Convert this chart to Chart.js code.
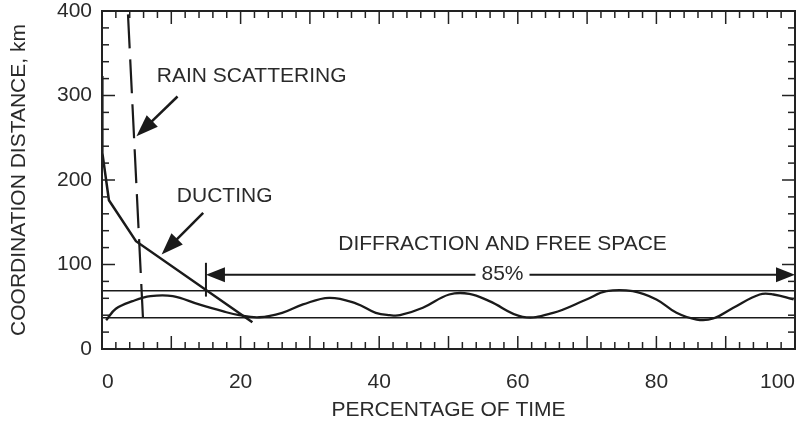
<!DOCTYPE html>
<html>
<head>
<meta charset="utf-8">
<script src="https://cdn.jsdelivr.net/npm/chart.js@4.4.1/dist/chart.umd.min.js"></script>
<style>
  html, body { margin: 0; padding: 0; background: #fff; }
</style>
</head>
<body>
<canvas id="myChart" width="797" height="427"></canvas>
<script>
// Tick labels
var xTicks = [0, 20, 40, 60, 80, 100];
var yTicks = [0, 100, 200, 300, 400];

// Diffraction and free space curve
var waveX = [0.6, 2, 4.4, 7, 10.2, 14, 17.4, 19.8, 22.7, 26, 29, 32.8, 36.7, 39.5, 41.5, 43, 46.3, 50.1, 53, 55.9, 60.7, 65.1, 69.9, 72.8, 76.6, 80, 82.9, 85.8, 88.2, 91.1, 94.9, 96.9, 99.8];
var waveY = [34, 47.6, 56.6, 62.5, 62.5, 52.7, 44.7, 40, 37.6, 42.8, 52.7, 60.6, 53.8, 42.8, 40, 40, 48.8, 64.5, 65.3, 56.6, 38.1, 42.8, 58.6, 68.4, 68.4, 58.6, 42.8, 34.9, 36.1, 48.8, 64.5, 64.5, 58.6];

// Ducting curve
var ductX = [0, 0.05, 1.0, 4.9, 21.7];
var ductY = [323, 232, 176, 127.6, 31.7];

// Rain scattering (dashed)
var rainX = [3.75, 5.92];
var rainY = [396, 35];

// Horizontal limit lines
var limitValues = [69, 37];

// Annotations (data units)
var noteText = ["RAIN SCATTERING", "DUCTING", "DIFFRACTION AND FREE SPACE"];
var noteX = [7.9, 10.8, 57.8];
var noteY = [323, 181, 124];
var arrowFrom = [[10.9, 298.8], [14.6, 161.2]];
var arrowTo = [[4.97, 251.8], [8.6, 111.8]];
var spanFrom = 15;
var spanTo = 100;
var spanAt = 88;
var spanLabel = "85%";
var spanBar = [102, 62];

var FONT = "'Liberation Sans', Arial, sans-serif";
var INK = "#1a1a1a";
var TEXT = "#2a2a2a";

function pts(xs, ys) {
  return xs.map(function (v, i) { return { x: v, y: ys[i] }; });
}

function head(ctx, x1, y1, x2, y2, len, hw) {
  var t = Math.atan2(y2 - y1, x2 - x1);
  ctx.beginPath();
  ctx.moveTo(x2, y2);
  ctx.lineTo(x2 - len * Math.cos(t) + hw * Math.sin(t), y2 - len * Math.sin(t) - hw * Math.cos(t));
  ctx.lineTo(x2 - len * Math.cos(t) - hw * Math.sin(t), y2 - len * Math.sin(t) + hw * Math.cos(t));
  ctx.closePath();
  ctx.fill();
}

function seg(ctx, x1, y1, x2, y2) {
  ctx.beginPath();
  ctx.moveTo(x1, y1);
  ctx.lineTo(x2, y2);
  ctx.stroke();
}

// text notes and arrows
var notes = {
  id: "notes",
  afterDatasetsDraw: function (chart) {
    var ctx = chart.ctx, xs = chart.scales.x, ys = chart.scales.y;
    ctx.save();
    ctx.font = "21px " + FONT;
    ctx.fillStyle = TEXT;
    ctx.textBaseline = "middle";
    for (var i = 0; i < noteText.length; i++) {
      ctx.textAlign = i === 2 ? "center" : "left";
      ctx.fillText(noteText[i], xs.getPixelForValue(noteX[i]), ys.getPixelForValue(noteY[i]));
    }

    ctx.strokeStyle = INK;
    ctx.fillStyle = INK;
    ctx.lineWidth = 2.5;
    for (var k = 0; k < arrowFrom.length; k++) {
      var x1 = xs.getPixelForValue(arrowFrom[k][0]), y1 = ys.getPixelForValue(arrowFrom[k][1]);
      var x2 = xs.getPixelForValue(arrowTo[k][0]), y2 = ys.getPixelForValue(arrowTo[k][1]);
      var t = Math.atan2(y2 - y1, x2 - x1);
      seg(ctx, x1, y1, x2 - 12 * Math.cos(t), y2 - 12 * Math.sin(t));
      head(ctx, x1, y1, x2, y2, 22, 8);
    }

    // 85% span
    var sx1 = xs.getPixelForValue(spanFrom), sx2 = xs.getPixelForValue(spanTo);
    var sy = ys.getPixelForValue(spanAt);
    var mid = (sx1 + sx2) / 2 + 2;
    ctx.textAlign = "center";
    ctx.fillStyle = TEXT;
    ctx.fillText(spanLabel, mid, sy);
    var gap = ctx.measureText(spanLabel).width / 2 + 6;
    ctx.fillStyle = INK;
    ctx.lineWidth = 2;
    seg(ctx, sx1 + 10, sy, mid - gap, sy);
    seg(ctx, mid + gap, sy, sx2 - 10, sy);
    head(ctx, sx2, sy, sx1, sy, 19, 7.5);
    head(ctx, sx1, sy, sx2, sy, 19, 7.5);
    seg(ctx, sx1, ys.getPixelForValue(spanBar[0]), sx1, ys.getPixelForValue(spanBar[1]));
    ctx.restore();
  }
};

// box round the plot and inward ticks
var box = {
  id: "box",
  afterDraw: function (chart) {
    var ctx = chart.ctx, xs = chart.scales.x, ys = chart.scales.y;
    var L = xs.getPixelForValue(0), R = xs.getPixelForValue(100);
    var T = ys.getPixelForValue(400), B = ys.getPixelForValue(0);
    ctx.save();
    ctx.strokeStyle = "#222222";
    ctx.lineWidth = 2;
    ctx.strokeRect(L, T, R - L, B - T);
    ctx.lineWidth = 1.5;
    for (var v = 0; v <= 100; v += 2) {
      var px = xs.getPixelForValue(v);
      var len = v % 10 === 0 ? 13 : 7;
      seg(ctx, px, B, px, B - len);
      seg(ctx, px, T, px, T + len);
    }
    for (var w = 0; w <= 400; w += 20) {
      var py = ys.getPixelForValue(w);
      var l2 = w % 100 === 0 ? 13 : 7;
      seg(ctx, L, py, L + l2, py);
      seg(ctx, R, py, R - l2, py);
    }
    ctx.restore();
  }
};

var data = {
  datasets: [
    {
      data: pts(waveX, waveY),
      borderColor: INK,
      borderWidth: 2.3,
      tension: 0.4,
      fill: false
    },
    {
      data: pts(ductX, ductY),
      borderColor: INK,
      borderWidth: 2.5,
      tension: 0,
      fill: false
    },
    {
      data: pts(rainX, rainY),
      borderColor: INK,
      borderWidth: 2.2,
      borderDash: [34, 11],
      fill: false
    },
    {
      data: [{ x: 0, y: limitValues[0] }, { x: 100, y: limitValues[0] }],
      borderColor: INK,
      borderWidth: 1.6,
      fill: false
    },
    {
      data: [{ x: 0, y: limitValues[1] }, { x: 100, y: limitValues[1] }],
      borderColor: INK,
      borderWidth: 1.6,
      fill: false
    }
  ]
};

var tickFont = { family: FONT, size: 21 };

var config = {
  type: "line",
  data: data,
  options: {
    responsive: false,
    animation: false,
    layout: { padding: { top: 11, right: 2, left: 0, bottom: 0 } },
    elements: { point: { radius: 0 } },
    plugins: { legend: { display: false }, tooltip: { enabled: false } },
    scales: {
      x: {
        type: "linear",
        min: 0,
        max: 100,
        grid: { display: false, drawTicks: false },
        border: { display: false },
        ticks: { align: "inner", padding: 21, maxRotation: 0, font: tickFont, color: TEXT },
        afterBuildTicks: function (s) { s.ticks = xTicks.map(function (v) { return { value: v }; }); },
        afterFit: function (s) { s.height = 78; s.paddingLeft = 0; s.paddingRight = 0; },
        title: { display: true, text: "PERCENTAGE OF TIME", font: tickFont, color: TEXT, padding: { top: 0, bottom: 4 } }
      },
      y: {
        type: "linear",
        min: 0,
        max: 400,
        grid: { display: false, drawTicks: false },
        border: { display: false },
        ticks: { padding: 10, font: tickFont, color: TEXT },
        afterBuildTicks: function (s) { s.ticks = yTicks.map(function (v) { return { value: v }; }); },
        afterFit: function (s) { s.width = 102; s.paddingTop = 0; s.paddingBottom = 0; },
        title: { display: true, text: "COORDINATION DISTANCE, km", font: tickFont, color: TEXT, padding: { top: 7, bottom: 0 } }
      }
    }
  },
  plugins: [notes, box]
};

const myChart = new Chart(document.getElementById("myChart").getContext("2d"), config);
</script>
</body>
</html>
